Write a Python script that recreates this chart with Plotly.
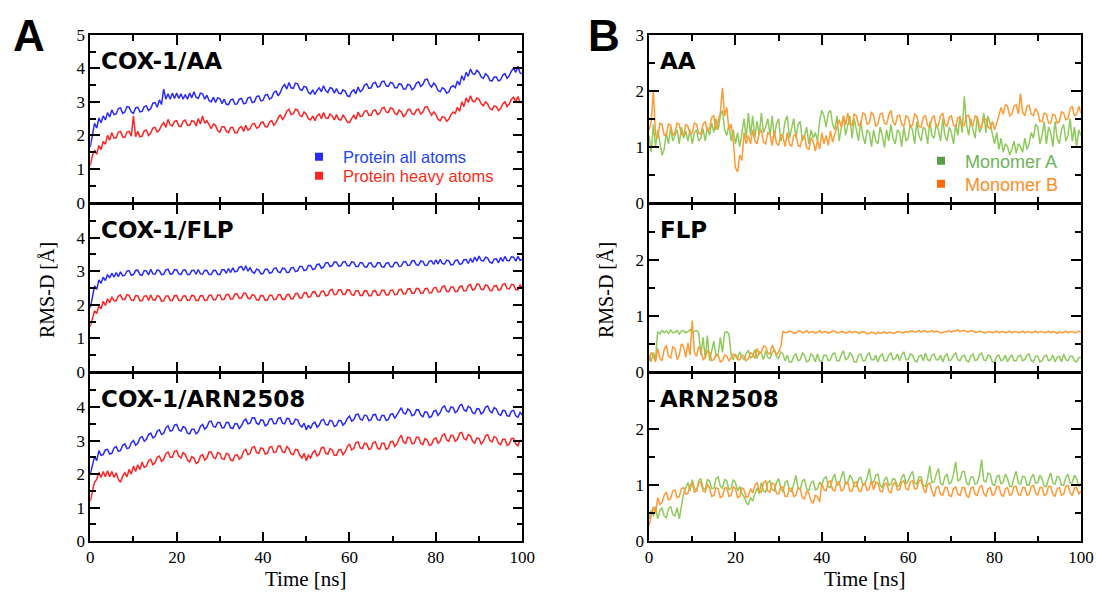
import plotly.graph_objects as go

# the page's default 8px body margin is removed by a post-script, so paper px == screen px
OFF = 0
FW, FH = 1096, 594

# ---------------- data (RMSD in Angstrom, read every 0.5 ns) ----------------
time_ns = [k / 2 for k in range(201)]

aa_all = [1.65, 2.05, 2.36, 2.22, 2.52, 2.38, 2.58, 2.46, 2.68, 2.55, 2.76, 2.62, 2.64, 2.80, 2.82, 2.66, 2.70, 2.86, 2.84, 2.70,
          2.66, 2.82, 2.84, 2.70, 2.72, 2.86, 2.88, 2.74, 2.80, 2.96, 2.98, 2.84, 3.06, 2.92, 3.38, 3.08, 3.24, 3.08, 3.26, 3.10,
          3.26, 3.10, 3.24, 3.08, 3.22, 3.08, 3.26, 3.12, 3.30, 3.14, 3.10, 3.26, 3.24, 3.08, 3.20, 3.04, 3.00, 3.14, 2.98, 3.12,
          3.10, 2.95, 3.08, 2.93, 2.92, 3.06, 3.08, 2.93, 2.94, 3.08, 3.10, 2.95, 2.96, 3.12, 3.14, 2.98, 3.00, 3.16, 3.18, 3.03,
          3.05, 3.20, 3.22, 3.08, 3.12, 3.28, 3.32, 3.18, 3.28, 3.44, 3.52, 3.38, 3.58, 3.42, 3.40, 3.56, 3.54, 3.38, 3.34, 3.46,
          3.44, 3.28, 3.24, 3.36, 3.22, 3.34, 3.42, 3.30, 3.48, 3.34, 3.28, 3.42, 3.40, 3.26, 3.40, 3.26, 3.24, 3.36, 3.32, 3.18,
          3.16, 3.30, 3.36, 3.24, 3.44, 3.30, 3.36, 3.50, 3.54, 3.40, 3.42, 3.56, 3.58, 3.44, 3.46, 3.60, 3.62, 3.48, 3.46, 3.58,
          3.56, 3.42, 3.42, 3.54, 3.52, 3.38, 3.38, 3.52, 3.50, 3.36, 3.42, 3.56, 3.60, 3.46, 3.52, 3.66, 3.68, 3.52, 3.44, 3.56,
          3.48, 3.34, 3.30, 3.42, 3.38, 3.26, 3.30, 3.44, 3.48, 3.42, 3.62, 3.50, 3.78, 3.64, 3.88, 3.76, 3.98, 3.84, 3.82, 3.94,
          3.88, 3.74, 3.70, 3.84, 3.78, 3.64, 3.62, 3.74, 3.74, 3.62, 3.66, 3.80, 3.84, 3.70, 3.78, 3.92, 4.00, 3.88, 4.06, 3.86,
          3.84]
aa_heavy = [1.10, 1.40, 1.56, 1.44, 1.70, 1.58, 1.82, 1.74, 2.00, 1.86, 2.08, 1.92, 1.92, 2.10, 2.12, 1.96, 1.94, 2.10, 2.12, 1.98,
            2.58, 1.96, 2.12, 1.96, 1.98, 2.14, 2.16, 2.00, 2.08, 2.22, 2.24, 2.10, 2.16, 2.30, 2.38, 2.24, 2.48, 2.32, 2.28, 2.42,
            2.44, 2.28, 2.26, 2.42, 2.46, 2.30, 2.30, 2.44, 2.42, 2.28, 2.50, 2.34, 2.58, 2.36, 2.44, 2.30, 2.20, 2.34, 2.30, 2.14,
            2.10, 2.26, 2.26, 2.12, 2.08, 2.24, 2.24, 2.08, 2.08, 2.22, 2.26, 2.12, 2.30, 2.16, 2.20, 2.34, 2.36, 2.22, 2.24, 2.38,
            2.40, 2.26, 2.26, 2.40, 2.44, 2.30, 2.38, 2.52, 2.62, 2.48, 2.56, 2.72, 2.78, 2.62, 2.64, 2.78, 2.76, 2.60, 2.56, 2.70,
            2.64, 2.50, 2.46, 2.58, 2.44, 2.58, 2.64, 2.50, 2.68, 2.52, 2.50, 2.64, 2.58, 2.46, 2.62, 2.48, 2.46, 2.60, 2.52, 2.40,
            2.38, 2.50, 2.60, 2.48, 2.70, 2.56, 2.58, 2.72, 2.74, 2.60, 2.60, 2.74, 2.76, 2.62, 2.66, 2.80, 2.84, 2.70, 2.68, 2.82,
            2.80, 2.66, 2.62, 2.76, 2.70, 2.56, 2.62, 2.76, 2.78, 2.64, 2.62, 2.76, 2.78, 2.64, 2.70, 2.84, 2.86, 2.72, 2.60, 2.70,
            2.62, 2.48, 2.44, 2.56, 2.54, 2.42, 2.48, 2.62, 2.70, 2.66, 2.84, 2.72, 3.00, 2.86, 3.12, 2.98, 3.18, 3.02, 3.00, 3.12,
            3.08, 2.94, 2.88, 3.00, 2.94, 2.80, 2.76, 2.88, 2.86, 2.74, 2.80, 2.94, 3.00, 2.86, 2.94, 3.08, 3.14, 3.00, 3.16, 2.98,
            2.98]

flp_all = [1.90, 2.30, 2.56, 2.46, 2.74, 2.64, 2.82, 2.72, 2.90, 2.80, 2.94, 2.82, 2.96, 2.84, 2.98, 2.86, 2.88, 3.00, 3.02, 2.88,
           2.90, 3.02, 3.03, 2.90, 2.88, 3.02, 3.01, 2.89, 3.06, 2.92, 2.91, 3.04, 3.02, 2.90, 2.91, 3.04, 3.06, 2.92, 2.92, 3.04,
           3.04, 2.92, 2.90, 3.03, 3.04, 2.90, 2.90, 3.02, 3.03, 2.91, 3.05, 2.92, 2.91, 3.03, 3.02, 2.90, 2.90, 3.02, 3.03, 2.91,
           2.90, 3.04, 3.04, 2.94, 3.08, 2.96, 3.10, 2.98, 3.00, 3.12, 3.14, 3.02, 3.16, 3.00, 3.10, 2.98, 2.94, 3.06, 3.04, 2.92,
           2.93, 3.06, 3.06, 2.94, 2.96, 3.08, 3.10, 2.98, 2.96, 3.09, 3.08, 2.96, 2.97, 3.10, 3.11, 2.99, 3.01, 3.14, 3.14, 3.02,
           3.04, 3.17, 3.17, 3.05, 3.07, 3.20, 3.21, 3.09, 3.12, 3.25, 3.26, 3.14, 3.16, 3.28, 3.27, 3.15, 3.16, 3.28, 3.29, 3.17,
           3.16, 3.28, 3.26, 3.14, 3.14, 3.26, 3.25, 3.13, 3.12, 3.24, 3.25, 3.13, 3.13, 3.25, 3.25, 3.13, 3.12, 3.24, 3.25, 3.13,
           3.13, 3.26, 3.26, 3.14, 3.15, 3.28, 3.29, 3.17, 3.18, 3.31, 3.31, 3.19, 3.18, 3.30, 3.29, 3.17, 3.18, 3.30, 3.31, 3.20,
           3.34, 3.22, 3.35, 3.23, 3.21, 3.33, 3.31, 3.19, 3.20, 3.32, 3.33, 3.21, 3.22, 3.34, 3.35, 3.23, 3.38, 3.26, 3.42, 3.30,
           3.45, 3.32, 3.30, 3.42, 3.39, 3.27, 3.24, 3.36, 3.37, 3.25, 3.41, 3.29, 3.44, 3.32, 3.31, 3.43, 3.42, 3.30, 3.44, 3.32,
           3.36]
flp_heavy = [1.35, 1.62, 1.82, 1.74, 1.98, 1.88, 2.10, 1.98, 2.18, 2.06, 2.24, 2.12, 2.12, 2.26, 2.29, 2.16, 2.16, 2.30, 2.28, 2.14,
             2.13, 2.27, 2.27, 2.12, 2.12, 2.26, 2.27, 2.13, 2.30, 2.15, 2.14, 2.27, 2.25, 2.11, 2.12, 2.26, 2.27, 2.13, 2.13, 2.27,
             2.28, 2.13, 2.12, 2.26, 2.27, 2.13, 2.14, 2.28, 2.27, 2.13, 2.13, 2.27, 2.27, 2.13, 2.14, 2.28, 2.29, 2.15, 2.15, 2.29,
             2.29, 2.15, 2.16, 2.30, 2.31, 2.17, 2.18, 2.32, 2.33, 2.19, 2.20, 2.34, 2.34, 2.20, 2.18, 2.30, 2.28, 2.15, 2.14, 2.28,
             2.27, 2.13, 2.14, 2.28, 2.29, 2.15, 2.16, 2.30, 2.30, 2.16, 2.16, 2.30, 2.31, 2.17, 2.19, 2.33, 2.34, 2.20, 2.21, 2.35,
             2.36, 2.22, 2.24, 2.38, 2.39, 2.25, 2.26, 2.40, 2.41, 2.27, 2.29, 2.43, 2.46, 2.30, 2.31, 2.45, 2.45, 2.31, 2.31, 2.45,
             2.44, 2.30, 2.28, 2.42, 2.42, 2.28, 2.28, 2.42, 2.41, 2.27, 2.27, 2.41, 2.42, 2.28, 2.29, 2.43, 2.43, 2.29, 2.29, 2.43,
             2.44, 2.30, 2.31, 2.45, 2.46, 2.32, 2.33, 2.47, 2.48, 2.34, 2.35, 2.49, 2.48, 2.34, 2.34, 2.48, 2.49, 2.35, 2.36, 2.50,
             2.52, 2.38, 2.39, 2.54, 2.56, 2.40, 2.39, 2.53, 2.53, 2.39, 2.40, 2.54, 2.56, 2.41, 2.42, 2.57, 2.60, 2.44, 2.46, 2.62,
             2.61, 2.46, 2.45, 2.59, 2.57, 2.43, 2.42, 2.56, 2.57, 2.43, 2.46, 2.61, 2.63, 2.48, 2.47, 2.61, 2.59, 2.45, 2.45, 2.59,
             2.50]

arn_all = [1.99, 2.30, 2.52, 2.40, 2.70, 2.56, 2.58, 2.72, 2.74, 2.60, 2.62, 2.78, 2.82, 2.68, 2.70, 2.86, 2.90, 2.76, 2.78, 2.94,
           3.00, 2.86, 2.92, 3.08, 3.12, 2.98, 3.04, 3.18, 3.22, 3.08, 3.12, 3.28, 3.32, 3.18, 3.22, 3.38, 3.44, 3.28, 3.30, 3.46,
           3.48, 3.32, 3.28, 3.42, 3.38, 3.22, 3.20, 3.34, 3.34, 3.20, 3.26, 3.42, 3.48, 3.34, 3.40, 3.56, 3.58, 3.42, 3.40, 3.54,
           3.54, 3.38, 3.39, 3.54, 3.54, 3.38, 3.36, 3.50, 3.50, 3.36, 3.44, 3.58, 3.64, 3.50, 3.52, 3.68, 3.68, 3.52, 3.48, 3.62,
           3.60, 3.44, 3.48, 3.63, 3.65, 3.50, 3.51, 3.66, 3.68, 3.52, 3.50, 3.66, 3.65, 3.49, 3.50, 3.64, 3.62, 3.46, 3.40, 3.52,
           3.32, 3.46, 3.36, 3.50, 3.55, 3.40, 3.46, 3.60, 3.63, 3.48, 3.46, 3.60, 3.58, 3.42, 3.45, 3.60, 3.60, 3.46, 3.52, 3.66,
           3.73, 3.58, 3.62, 3.77, 3.79, 3.64, 3.61, 3.76, 3.74, 3.59, 3.62, 3.77, 3.78, 3.62, 3.60, 3.75, 3.75, 3.60, 3.63, 3.78,
           3.80, 3.66, 3.76, 3.90, 3.98, 3.82, 3.79, 3.94, 3.89, 3.74, 3.77, 3.92, 3.91, 3.76, 3.71, 3.86, 3.84, 3.69, 3.72, 3.87,
           3.90, 3.75, 3.83, 3.98, 4.03, 3.88, 3.85, 4.00, 3.98, 3.83, 3.89, 4.04, 4.08, 3.92, 3.87, 4.02, 3.98, 3.83, 3.80, 3.95,
           3.94, 3.79, 3.85, 4.00, 4.03, 3.88, 3.83, 3.98, 3.94, 3.79, 3.75, 3.90, 3.89, 3.74, 3.73, 3.88, 3.90, 3.74, 3.69, 3.84,
           3.76]
arn_heavy = [1.20, 1.52, 1.76, 1.84, 2.06, 1.90, 2.08, 1.92, 2.10, 1.92, 2.08, 1.90, 2.04, 1.84, 1.76, 1.94, 2.04, 1.92, 2.14, 2.00,
             2.24, 2.08, 2.28, 2.14, 2.36, 2.20, 2.24, 2.40, 2.44, 2.28, 2.34, 2.50, 2.54, 2.38, 2.44, 2.60, 2.66, 2.50, 2.50, 2.68,
             2.70, 2.54, 2.48, 2.64, 2.58, 2.42, 2.36, 2.52, 2.48, 2.32, 2.36, 2.54, 2.58, 2.42, 2.48, 2.66, 2.66, 2.50, 2.46, 2.64,
             2.62, 2.46, 2.44, 2.62, 2.60, 2.42, 2.40, 2.56, 2.58, 2.44, 2.50, 2.68, 2.74, 2.58, 2.62, 2.80, 2.82, 2.64, 2.62, 2.78,
             2.76, 2.60, 2.62, 2.80, 2.82, 2.64, 2.66, 2.84, 2.84, 2.66, 2.64, 2.82, 2.76, 2.60, 2.58, 2.74, 2.72, 2.56, 2.48, 2.62,
             2.40, 2.56, 2.48, 2.64, 2.70, 2.54, 2.60, 2.78, 2.80, 2.62, 2.60, 2.76, 2.72, 2.56, 2.56, 2.72, 2.74, 2.58, 2.66, 2.82,
             2.90, 2.72, 2.76, 2.94, 2.96, 2.78, 2.76, 2.92, 2.90, 2.74, 2.76, 2.94, 2.96, 2.78, 2.74, 2.92, 2.92, 2.74, 2.78, 2.96,
             2.98, 2.82, 2.90, 3.06, 3.16, 2.96, 2.92, 3.10, 3.08, 2.90, 2.92, 3.10, 3.10, 2.92, 2.88, 3.06, 3.02, 2.86, 2.88, 3.04,
             3.08, 2.92, 2.98, 3.16, 3.20, 3.02, 2.98, 3.16, 3.14, 2.98, 3.04, 3.22, 3.24, 3.06, 3.02, 3.18, 3.14, 2.98, 2.92, 3.08,
             3.06, 2.90, 2.98, 3.14, 3.18, 3.00, 2.96, 3.12, 3.08, 2.92, 2.88, 3.04, 3.04, 2.86, 2.90, 3.06, 3.06, 2.90, 2.84, 3.00,
             3.00]

aa_monoA = [1.20, 0.90, 1.40, 1.00, 1.30, 1.10, 0.85, 0.95, 1.25, 1.05, 1.35, 1.10, 1.20, 1.30, 1.05, 1.35, 1.15, 1.28, 1.10, 1.30,
            1.05, 1.25, 1.30, 1.10, 1.15, 1.32, 1.10, 1.35, 1.20, 1.42, 1.25, 1.50, 1.30, 1.55, 1.65, 1.30, 1.20, 1.40, 1.10, 1.30,
            1.05, 1.25, 1.00, 1.30, 1.50, 1.15, 1.60, 1.20, 1.55, 1.15, 1.45, 1.20, 1.60, 1.25, 1.35, 1.50, 1.20, 1.55, 1.15, 1.40,
            1.50, 1.10, 1.20, 1.45, 1.55, 1.15, 1.30, 1.50, 1.15, 1.40, 1.45, 1.10, 1.20, 1.35, 1.05, 1.30, 1.15, 1.25, 1.10, 1.45,
            1.65, 1.55, 1.35, 1.60, 1.65, 1.40, 1.30, 1.55, 1.10, 1.35, 1.55, 1.20, 1.40, 1.55, 1.15, 1.50, 1.30, 1.10, 1.45, 1.20,
            1.05, 1.30, 1.25, 1.00, 1.30, 1.10, 1.05, 1.35, 1.20, 0.98, 1.30, 1.10, 1.40, 1.15, 1.05, 1.30, 1.25, 1.00, 1.35, 1.10,
            1.15, 1.40, 1.30, 1.05, 1.45, 1.20, 1.10, 1.35, 1.30, 1.05, 1.45, 1.20, 1.15, 1.40, 1.30, 1.10, 1.50, 1.20, 1.10, 1.35,
            1.25, 1.05, 1.40, 1.20, 1.55, 1.25, 1.90, 1.40, 1.20, 1.50, 1.30, 1.15, 1.55, 1.25, 1.35, 1.60, 1.25, 1.55, 1.40, 1.20,
            1.05, 1.25, 0.95, 1.15, 0.90, 1.05, 1.00, 0.85, 0.95, 1.10, 0.88, 1.05, 1.00, 0.90, 1.15, 0.95, 1.05, 1.25, 1.15, 1.40,
            1.35, 1.05, 1.20, 1.45, 1.05, 1.35, 1.25, 1.00, 1.45, 1.15, 1.05, 1.30, 1.40, 1.10, 1.20, 1.50, 1.10, 1.35, 1.00, 1.30,
            1.20]
aa_monoB = [1.30, 1.45, 2.00, 1.20, 1.15, 1.42, 1.40, 1.20, 1.22, 1.40, 1.38, 1.20, 1.25, 1.42, 1.40, 1.22, 1.20, 1.40, 1.36, 1.22,
            1.25, 1.42, 1.40, 1.24, 1.22, 1.40, 1.45, 1.28, 1.32, 1.52, 1.55, 1.30, 1.45, 1.60, 2.05, 1.55, 1.70, 1.30, 1.40, 1.10,
            0.62, 0.55, 0.85, 0.75, 1.25, 1.05, 1.20, 1.05, 1.30, 1.10, 1.05, 1.25, 1.30, 1.08, 1.05, 1.25, 1.22, 1.02, 1.28, 1.06,
            1.02, 1.22, 1.18, 1.00, 1.25, 1.05, 1.00, 1.20, 1.22, 1.02, 1.00, 1.18, 1.20, 0.98, 0.95, 1.15, 1.10, 0.92, 1.12, 0.96,
            1.25, 1.05, 1.20, 1.02, 1.28, 1.08, 1.22, 1.35, 1.48, 1.35, 1.55, 1.38, 1.60, 1.40, 1.38, 1.58, 1.55, 1.38, 1.40, 1.60,
            1.58, 1.40, 1.42, 1.62, 1.55, 1.36, 1.40, 1.58, 1.60, 1.42, 1.40, 1.56, 1.65, 1.44, 1.38, 1.55, 1.56, 1.40, 1.36, 1.55,
            1.52, 1.35, 1.38, 1.58, 1.55, 1.36, 1.35, 1.52, 1.55, 1.38, 1.34, 1.50, 1.56, 1.36, 1.38, 1.55, 1.60, 1.40, 1.36, 1.52,
            1.55, 1.38, 1.35, 1.52, 1.52, 1.36, 1.38, 1.55, 1.56, 1.40, 1.38, 1.55, 1.52, 1.36, 1.34, 1.50, 1.50, 1.35, 1.32, 1.45,
            1.30, 1.42, 1.55, 1.70, 1.58, 1.75, 1.72, 1.55, 1.58, 1.72, 1.75, 1.58, 1.95, 1.62, 1.55, 1.72, 1.74, 1.58, 1.55, 1.68,
            1.62, 1.45, 1.45, 1.60, 1.58, 1.42, 1.42, 1.58, 1.56, 1.42, 1.45, 1.62, 1.60, 1.48, 1.50, 1.68, 1.72, 1.55, 1.58, 1.72,
            1.60]

flp_monoA = [0.30, 0.18, 0.35, 0.22, 0.72, 0.68, 0.74, 0.70, 0.73, 0.69, 0.75, 0.70, 0.71, 0.74, 0.68, 0.73, 0.74, 0.70, 0.72, 0.76,
             0.69, 0.73, 0.74, 0.70, 0.30, 0.62, 0.25, 0.65, 0.20, 0.35, 0.55, 0.28, 0.30, 0.62, 0.35, 0.70, 0.72, 0.68, 0.30, 0.22,
             0.32, 0.24, 0.36, 0.26, 0.22, 0.34, 0.38, 0.25, 0.28, 0.40, 0.24, 0.36, 0.34, 0.22, 0.38, 0.26, 0.24, 0.34, 0.40, 0.28,
             0.24, 0.36, 0.32, 0.20, 0.30, 0.18, 0.18, 0.28, 0.32, 0.20, 0.22, 0.34, 0.30, 0.18, 0.20, 0.32, 0.28, 0.18, 0.32, 0.20,
             0.18, 0.30, 0.30, 0.20, 0.22, 0.32, 0.34, 0.20, 0.20, 0.30, 0.38, 0.22, 0.24, 0.34, 0.30, 0.18, 0.18, 0.30, 0.32, 0.20,
             0.20, 0.30, 0.34, 0.22, 0.22, 0.30, 0.18, 0.28, 0.32, 0.20, 0.20, 0.30, 0.34, 0.22, 0.24, 0.32, 0.20, 0.30, 0.36, 0.22,
             0.22, 0.32, 0.30, 0.20, 0.18, 0.28, 0.30, 0.20, 0.34, 0.22, 0.20, 0.30, 0.32, 0.22, 0.22, 0.30, 0.18, 0.28, 0.32, 0.20,
             0.22, 0.30, 0.34, 0.22, 0.20, 0.28, 0.30, 0.20, 0.18, 0.28, 0.32, 0.20, 0.22, 0.30, 0.34, 0.22, 0.20, 0.30, 0.28, 0.18,
             0.18, 0.28, 0.30, 0.20, 0.22, 0.30, 0.18, 0.26, 0.30, 0.20, 0.20, 0.28, 0.30, 0.20, 0.22, 0.30, 0.32, 0.20, 0.18, 0.28,
             0.28, 0.18, 0.20, 0.28, 0.30, 0.20, 0.22, 0.30, 0.18, 0.26, 0.28, 0.18, 0.32, 0.22, 0.20, 0.28, 0.28, 0.20, 0.18, 0.26,
             0.26]
flp_monoB = [0.20, 0.35, 0.28, 0.18, 0.42, 0.25, 0.20, 0.40, 0.48, 0.28, 0.25, 0.45, 0.42, 0.22, 0.30, 0.50, 0.45, 0.26, 0.52, 0.30,
             0.92, 0.35, 0.28, 0.45, 0.40, 0.22, 0.25, 0.38, 0.35, 0.20, 0.22, 0.32, 0.30, 0.18, 0.20, 0.30, 0.28, 0.20, 0.25, 0.32,
             0.30, 0.22, 0.22, 0.30, 0.28, 0.20, 0.24, 0.34, 0.32, 0.24, 0.42, 0.32, 0.36, 0.46, 0.45, 0.34, 0.32, 0.48, 0.40, 0.30,
             0.36, 0.45, 0.73, 0.70, 0.71, 0.73, 0.72, 0.69, 0.70, 0.73, 0.73, 0.70, 0.71, 0.74, 0.70, 0.72, 0.72, 0.69, 0.71, 0.74,
             0.70, 0.72, 0.72, 0.69, 0.71, 0.73, 0.73, 0.70, 0.70, 0.72, 0.72, 0.69, 0.71, 0.73, 0.70, 0.72, 0.72, 0.69, 0.70, 0.72,
             0.71, 0.68, 0.69, 0.71, 0.70, 0.68, 0.71, 0.69, 0.70, 0.72, 0.69, 0.71, 0.71, 0.69, 0.70, 0.72, 0.72, 0.70, 0.70, 0.72,
             0.71, 0.73, 0.73, 0.71, 0.72, 0.74, 0.71, 0.73, 0.73, 0.71, 0.72, 0.74, 0.71, 0.73, 0.72, 0.70, 0.70, 0.72, 0.72, 0.74,
             0.71, 0.73, 0.73, 0.75, 0.72, 0.74, 0.74, 0.72, 0.72, 0.74, 0.73, 0.71, 0.71, 0.73, 0.72, 0.70, 0.70, 0.72, 0.72, 0.70,
             0.71, 0.73, 0.70, 0.72, 0.72, 0.70, 0.71, 0.73, 0.70, 0.72, 0.72, 0.70, 0.71, 0.73, 0.70, 0.72, 0.72, 0.70, 0.71, 0.73,
             0.70, 0.72, 0.72, 0.70, 0.71, 0.73, 0.70, 0.72, 0.71, 0.69, 0.72, 0.70, 0.71, 0.73, 0.70, 0.72, 0.72, 0.70, 0.71, 0.73,
             0.71]

arn_monoA = [0.40, 0.55, 0.45, 0.62, 0.40, 0.55, 0.60, 0.45, 0.42, 0.58, 0.62, 0.48, 0.45, 0.60, 0.40, 0.65, 0.85, 0.95, 1.05, 0.90,
             1.10, 0.95, 0.90, 1.08, 1.12, 0.95, 0.92, 1.10, 1.08, 0.94, 0.95, 1.12, 1.15, 0.98, 0.95, 1.10, 1.08, 0.92, 0.95, 1.10,
             1.05, 0.90, 0.98, 0.85, 0.80, 0.70, 0.65, 0.78, 0.72, 0.85, 0.95, 0.85, 1.05, 0.90, 0.88, 1.05, 1.08, 0.92, 0.90, 1.05,
             1.12, 0.95, 0.88, 1.05, 1.08, 0.92, 0.88, 1.02, 1.18, 0.95, 0.92, 1.08, 1.10, 0.94, 0.90, 1.04, 1.08, 0.92, 0.94, 1.06,
             1.00, 1.12, 1.15, 0.98, 0.96, 1.12, 1.20, 1.00, 1.02, 1.15, 1.25, 1.02, 1.05, 1.18, 1.12, 0.98, 0.98, 1.10, 1.15, 1.00,
             1.02, 1.14, 1.30, 1.05, 1.06, 1.18, 1.20, 1.00, 0.96, 1.10, 1.15, 1.00, 1.02, 1.12, 1.10, 0.98, 1.00, 1.14, 1.20, 1.02,
             1.08, 1.18, 1.25, 1.04, 1.02, 1.15, 1.15, 1.00, 0.98, 1.12, 1.35, 1.05, 1.06, 1.20, 1.30, 1.04, 1.00, 1.15, 1.20, 1.02,
             1.06, 1.20, 1.42, 1.08, 1.10, 1.24, 1.25, 1.05, 1.00, 1.15, 1.15, 1.02, 1.04, 1.18, 1.46, 1.08, 1.06, 1.22, 1.20, 1.02,
             1.00, 1.15, 1.18, 1.02, 1.06, 1.20, 1.12, 0.98, 0.98, 1.14, 1.25, 1.04, 1.02, 1.16, 1.15, 1.00, 1.00, 1.14, 1.20, 1.04,
             1.05, 1.18, 1.12, 0.98, 0.98, 1.12, 1.22, 1.04, 1.02, 1.16, 1.14, 1.00, 1.00, 1.14, 1.20, 1.04, 1.05, 1.18, 1.12, 0.98,
             1.04]
arn_monoB = [0.28, 0.45, 0.62, 0.50, 0.78, 0.65, 0.70, 0.82, 0.88, 0.74, 0.76, 0.90, 0.92, 0.78, 0.80, 0.94, 0.96, 0.84, 0.86, 1.00,
             1.04, 0.88, 0.90, 1.05, 1.06, 0.90, 0.88, 1.02, 0.96, 0.80, 0.82, 0.96, 0.94, 0.78, 0.80, 0.95, 0.96, 0.80, 0.82, 0.98,
             0.94, 0.78, 0.80, 0.96, 0.92, 0.78, 0.80, 0.94, 0.86, 1.00, 1.05, 0.90, 0.88, 1.05, 1.08, 0.90, 0.88, 1.04, 1.02, 0.86,
             0.84, 0.98, 0.96, 0.80, 0.80, 0.94, 0.95, 0.80, 0.82, 0.96, 0.94, 0.78, 0.76, 0.90, 0.86, 0.72, 0.68, 0.82, 0.80, 0.70,
             1.04, 0.92, 0.90, 1.06, 1.08, 0.92, 0.90, 1.05, 1.06, 0.90, 0.92, 1.06, 1.05, 0.90, 0.90, 1.04, 1.06, 0.92, 0.88, 1.02,
             1.04, 0.90, 0.94, 1.08, 0.92, 1.06, 1.04, 0.90, 0.88, 1.02, 1.04, 0.90, 0.86, 1.02, 1.06, 0.92, 0.92, 1.05, 1.08, 0.94,
             0.92, 1.06, 1.08, 0.94, 0.94, 1.08, 1.10, 0.95, 0.86, 1.02, 1.04, 0.90, 0.80, 0.96, 0.98, 0.84, 0.82, 0.96, 0.96, 0.82,
             0.80, 0.94, 0.98, 0.84, 0.82, 0.96, 0.96, 0.82, 0.78, 0.94, 0.98, 0.84, 0.82, 0.96, 1.00, 0.86, 0.80, 0.94, 0.96, 0.82,
             0.84, 0.98, 0.98, 0.84, 0.80, 0.94, 0.96, 0.82, 0.84, 0.98, 0.98, 0.84, 0.82, 0.96, 0.96, 0.82, 0.84, 0.98, 1.00, 0.86,
             0.82, 0.96, 0.96, 0.82, 0.84, 0.98, 0.98, 0.84, 0.80, 0.94, 0.96, 0.82, 0.84, 0.98, 1.00, 0.86, 0.82, 0.96, 0.96, 0.84,
             0.90]

panel_titles_A = ["COX-1/AA", "COX-1/FLP", "COX-1/ARN2508"]
panel_titles_B = ["AA", "FLP", "ARN2508"]
legend_A = ["Protein all atoms", "Protein heavy atoms"]
legend_B = ["Monomer A", "Monomer B"]

# ---------------- styling ----------------
C_BLUE, C_RED = "#2a2aff", "#ff2424"
C_GREEN, C_ORANGE = "#8fca5c", "#ff9a35"
LEG_BLUE_T, LEG_RED_T = "#2244ff", "#ff2a1a"
LEG_GREEN_M, LEG_ORANGE_M = "#5a9e48", "#ff6a00"
LEG_GREEN_T, LEG_ORANGE_T = "#6cb458", "#ff8c1f"
SERIF = "Liberation Serif"
SANS = "Liberation Sans"
LW = 1.5  # frame line width


def fx(p):
    return (p - OFF) / FW


def fy(p):
    return 1 - (p - OFF) / FH


# frame line centres (screen px): x 89.5..523 / 648.3..1081.7 ; y 34, 203.3, 372.7, 542
XA = (89.5 + LW / 2, 523.0 - LW / 2)
XB = (648.3 + LW / 2, 1081.7 - LW / 2)
ROWS = [(34.0 + LW / 2, 203.3 - LW / 2), (203.3 + LW / 2, 372.7 - LW / 2), (372.7 + LW / 2, 542.0 - LW / 2)]

fig = go.Figure()

series_A = [(aa_all, aa_heavy), (flp_all, flp_heavy), (arn_all, arn_heavy)]
series_B = [(aa_monoA, aa_monoB), (flp_monoA, flp_monoB), (arn_monoA, arn_monoB)]

layout_axes = {}
idx = 0
for xpix, series, ymax, cols in [(XA, series_A, 5, (C_BLUE, C_RED)),
                                 (XB, series_B, 3, (C_GREEN, C_ORANGE))]:
    for r, (ytop, ybot) in enumerate(ROWS):
        idx += 1
        xa = "x" if idx == 1 else f"x{idx}"
        ya = "y" if idx == 1 else f"y{idx}"
        for s, c in zip(series[r], cols):
            fig.add_trace(go.Scatter(x=time_ns, y=s, mode="lines", xaxis=xa, yaxis=ya,
                                     line=dict(color=c, width=1.5), showlegend=False,
                                     hoverinfo="skip"))
        bottom = (r == 2)
        top_val = ymax if r == 0 else ymax - 1
        layout_axes["xaxis" if idx == 1 else f"xaxis{idx}"] = dict(
            domain=[fx(xpix[0]), fx(xpix[1])], anchor=ya, range=[0, 100], automargin=False,
            tickvals=[0, 20, 40, 60, 80, 100], ticks="inside", ticklen=10, tickwidth=1.5,
            tickcolor="black",
            minor=dict(tickvals=[10, 30, 50, 70, 90], ticks="inside", ticklen=6,
                       tickwidth=1.5, tickcolor="black"),
            showline=True, linecolor="black", linewidth=LW, mirror="allticks",
            showgrid=False, zeroline=False, showticklabels=bottom,
            tickfont=dict(family=SERIF, size=17, color="black"))
        layout_axes["yaxis" if idx == 1 else f"yaxis{idx}"] = dict(
            domain=[fy(ybot), fy(ytop)], anchor=xa, range=[0, ymax], automargin=False,
            tickvals=list(range(0, top_val + 1)), ticks="inside", ticklen=10, tickwidth=1.5,
            tickcolor="black",
            minor=dict(tickvals=[k + 0.5 for k in range(ymax)], ticks="inside", ticklen=6,
                       tickwidth=1.5, tickcolor="black"),
            showline=True, linecolor="black", linewidth=LW, mirror="allticks",
            showgrid=False, zeroline=False,
            tickfont=dict(family=SERIF, size=17, color="black"))

# legend-only marker traces (one small legend per entry, for exact placement)
legend_items = [(legend_A[0], C_BLUE, LEG_BLUE_T, "legend", 295, 157, 16.5),
                (legend_A[1], C_RED, LEG_RED_T, "legend3", 295, 176, 16.5),
                (legend_B[0], LEG_GREEN_M, LEG_GREEN_T, "legend2", 917, 161, 18),
                (legend_B[1], LEG_ORANGE_M, LEG_ORANGE_T, "legend4", 917, 184, 18)]
legend_layout = {}
for name, mcol, tcol, lg, lx, ly, fs in legend_items:
    fig.add_trace(go.Scatter(x=[None], y=[None], mode="markers", legend=lg,
                             marker=dict(symbol="square", size=8, color=mcol),
                             name=f"<span style='color:{tcol}'>{name}</span>",
                             showlegend=True))
    legend_layout[lg] = dict(x=fx(lx), y=fy(ly), xanchor="left", yanchor="middle",
                             bgcolor="rgba(0,0,0,0)", borderwidth=0,
                             font=dict(family=SANS, size=fs), itemwidth=38)

annotations = []
for r, (ytop, ybot) in enumerate(ROWS):
    annotations.append(dict(text=panel_titles_A[r], x=fx(99), y=fy(ytop + 26), xref="paper", yref="paper",
                            xanchor="left", yanchor="middle", showarrow=False,
                            font=dict(family="DejaVu Sans", size=23, color="black", weight="bold")))
    annotations.append(dict(text=panel_titles_B[r], x=fx(658), y=fy(ytop + 26), xref="paper", yref="paper",
                            xanchor="left", yanchor="middle", showarrow=False,
                            font=dict(family="DejaVu Sans", size=23, color="black", weight="bold")))

for lab, xp in [("A", 11), ("B", 586)]:
    annotations.append(dict(text=f"<b>{lab}</b>", x=fx(xp), y=fy(35), xref="paper", yref="paper",
                            xanchor="left", yanchor="middle", showarrow=False,
                            font=dict(family=SANS, size=44, color="black")))

for xc in [(XA[0] + XA[1]) / 2, (XB[0] + XB[1]) / 2]:
    annotations.append(dict(text="Time [ns]", x=fx(xc), y=fy(579), xref="paper", yref="paper",
                            xanchor="center", yanchor="middle", showarrow=False,
                            font=dict(family=SERIF, size=21, color="black")))
for xc in [47, 606]:
    annotations.append(dict(text="RMS-D [Å]", x=fx(xc), y=fy(290), xref="paper", yref="paper",
                            xanchor="center", yanchor="middle", showarrow=False, textangle=-90,
                            font=dict(family=SERIF, size=20, color="black")))

fig.update_layout(
    template="none",
    width=FW, height=FH, margin=dict(l=0, r=0, t=0, b=0, autoexpand=False),
    paper_bgcolor="white", plot_bgcolor="white",
    annotations=annotations,
    **legend_layout,
    **layout_axes,
)

fig.write_html("out.html",
               config={"displayModeBar": False},
               post_script="document.body.style.margin='0';document.body.style.overflow='hidden';")
